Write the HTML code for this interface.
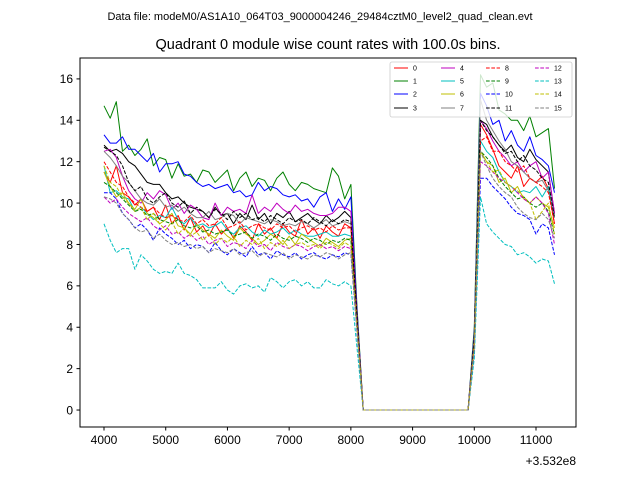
<!DOCTYPE html>
<html><head><meta charset="utf-8"><style>
body{margin:0;background:#fff;font-family:"Liberation Sans","DejaVu Sans",sans-serif}
svg{display:block}
</style></head><body>
<svg id="chart" width="640" height="480" viewBox="0 0 640 480">
<rect width="640" height="480" fill="#fff"/>
<text x="320" y="20" text-anchor="middle" font-size="11">Data file: modeM0/AS1A10_064T03_9000004246_29484cztM0_level2_quad_clean.evt</text>
<text x="328" y="49" text-anchor="middle" font-size="14.5">Quadrant 0 module wise count rates with 100.0s bins.</text>
<g id="series"></g>
<rect x="80" y="58" width="496" height="369" fill="none" stroke="#000" stroke-width="1"/>
<g id="xticks"></g>
<g id="yticks"></g>
<text x="576" y="465" text-anchor="end" font-size="12">+3.532e8</text>
<g id="legend"></g>
</svg>
<script>
const colors=["#f00","#008000","#00f","#000","#bf00bf","#00bfbf","#bfbf00","#808080"];
const labels=["0","1","2","3","4","5","6","7","8","9","10","11","12","13","14","15"];
const xTicks=[4000,5000,6000,7000,8000,9000,10000,11000];
const yTicks=[0,2,4,6,8,10,12,14,16];
const s0pre=[11.5,11.0,11.8,10.5,10.3,9.9,10.2,9.6,9.8,9.2,9.9,9.0,9.4,8.7,9.3,8.6,8.9,8.4,9.0,8.5,8.8,8.3,8.9,8.6,8.2,9.0,8.5,8.8,8.3,9.0,8.6,8.4,9.2,8.5,8.8,8.3,8.9,8.6,8.4,9.0,8.8];
const s0post=[13.8,13.3,12.6,11.8,11.5,11.2,11.8,10.8,11.2,11.0,11.3,10.7,9.0];
const s1pre=[14.7,14.1,14.9,12.5,12.8,12.3,12.6,13.1,11.8,12.2,12.1,11.2,11.9,11.3,11.4,11.0,11.6,11.5,11.0,11.3,11.6,10.6,11.2,11.5,10.8,11.2,11.1,10.6,11.2,11.5,10.9,10.6,11.0,10.9,10.7,10.6,10.5,11.7,11.3,10.2,10.9];
const s1post=[16.2,15.6,15.8,14.5,14.3,14.0,14.0,13.5,14.2,13.2,13.4,13.6,10.7];
const s2pre=[13.3,12.9,12.9,13.2,12.6,12.6,12.3,12.0,12.4,11.5,11.9,11.9,12.0,11.4,11.3,11.0,10.8,10.9,10.7,10.8,10.9,10.5,10.6,10.3,10.4,11.0,10.6,10.8,10.7,10.4,10.3,10.4,10.1,10.2,9.8,10.3,10.5,9.6,10.2,9.7,10.3];
const s2post=[15.3,14.7,13.8,14.0,13.0,13.5,12.8,12.5,13.2,12.3,12.1,11.8,10.5];
const s3pre=[12.8,12.5,12.6,12.4,12.0,11.8,11.4,11.0,10.9,10.9,10.5,10.2,10.3,10.0,9.8,9.7,9.6,9.3,9.8,9.4,9.5,9.0,9.5,9.2,9.9,9.2,9.5,9.0,9.5,9.3,9.6,9.1,9.3,9.5,9.2,9.0,9.4,9.1,9.3,9.6,9.3];
const s3post=[14.0,13.8,13.2,12.8,12.5,12.8,12.2,12.0,12.6,12.1,11.8,11.5,9.5];
const s4pre=[12.5,12.6,12.2,11.3,10.6,10.2,10.0,10.5,10.2,10.6,10.4,9.7,10.0,9.5,9.9,9.7,9.3,9.2,10.0,9.4,9.8,9.6,9.7,9.5,10.4,9.5,9.8,9.6,10.0,9.7,9.5,9.9,9.6,9.7,9.5,9.4,9.4,9.5,9.8,9.8,9.6];
const s4post=[14.0,13.6,13.0,12.5,12.2,11.8,12.0,11.5,11.8,12.0,11.2,11.5,9.5];
const s5pre=[11.8,10.5,10.6,10.3,10.2,9.6,9.8,9.5,9.2,9.4,9.3,9.8,9.2,9.0,9.3,8.9,9.0,8.8,8.9,9.1,8.7,8.5,8.8,8.9,8.6,8.4,8.7,8.5,8.6,8.8,8.5,8.7,8.5,8.4,8.4,8.5,8.6,8.4,8.4,8.5,8.4];
const s5post=[13.0,12.5,12.2,11.5,11.0,10.8,10.5,10.6,10.5,10.8,10.3,10.8,9.3];
const s6pre=[11.5,10.8,10.3,10.5,10.0,9.7,10.2,9.5,9.3,9.0,9.2,9.5,8.9,8.8,8.5,9.0,8.7,8.5,8.3,8.7,8.4,8.2,8.8,8.5,8.3,8.0,8.2,8.5,8.3,8.0,8.4,8.0,8.5,8.3,8.1,7.9,8.3,8.1,7.9,8.2,8.3];
const s6post=[12.5,12.0,11.8,11.0,11.2,10.5,10.8,10.2,10.0,10.3,10.0,9.8,8.8];
const s7pre=[12.5,12.2,11.8,11.3,11.0,10.6,10.2,10.0,9.9,10.2,9.8,9.9,9.6,9.8,9.5,9.3,9.3,9.6,9.2,9.3,9.5,9.4,9.0,9.3,9.2,9.1,9.0,9.2,9.1,8.9,9.0,8.9,9.1,9.0,8.8,9.0,9.2,8.9,9.0,9.1,9.0];
const s7post=[15.0,14.0,13.5,13.0,12.6,12.0,11.8,11.5,11.2,11.0,11.1,10.6,9.3];
const s8pre=[12.0,11.5,11.0,10.8,10.3,10.0,9.8,9.6,9.8,9.5,9.3,9.4,9.2,9.1,9.4,9.0,9.2,8.9,9.0,9.3,8.8,8.9,9.1,8.7,8.9,9.0,8.8,8.7,9.0,8.8,8.9,8.6,8.8,8.9,8.7,8.8,8.6,8.9,8.7,8.8,8.8];
const s8post=[13.0,13.2,12.5,12.5,12.0,11.8,11.5,11.8,11.2,11.0,10.8,10.5,9.0];
const s9pre=[11.0,10.8,10.5,10.2,9.9,9.6,9.7,9.4,9.5,9.2,9.1,9.0,9.2,8.9,8.8,8.9,8.6,8.7,8.5,8.6,8.7,8.4,8.5,8.6,8.3,8.5,8.4,8.2,8.5,8.3,8.2,8.4,8.3,8.1,8.3,8.2,8.0,8.2,8.1,8.3,8.2];
const s9post=[12.5,12.2,11.8,11.2,10.8,10.5,10.2,10.3,10.0,9.8,10.0,9.6,8.5];
const s10pre=[10.5,10.5,10.2,9.5,9.2,8.8,9.0,8.7,8.2,8.8,8.5,8.3,8.0,8.2,7.8,8.0,7.9,7.6,8.1,7.7,7.5,7.8,7.6,7.4,7.9,7.5,7.6,7.3,7.7,7.5,7.4,7.6,7.3,7.5,7.6,7.4,7.3,7.5,7.4,7.6,7.5];
const s10post=[11.2,11.2,10.8,10.5,10.2,9.8,9.5,9.4,9.2,8.5,9.0,8.8,7.5];
const s11pre=[12.7,12.5,12.3,11.8,11.0,10.6,10.8,10.2,10.0,10.3,10.5,10.0,9.8,10.1,9.5,9.8,9.6,9.3,9.7,9.5,9.2,9.6,9.3,9.5,9.2,9.3,9.1,9.4,9.2,9.0,9.3,9.1,9.2,9.0,9.3,9.1,8.9,9.2,9.0,9.2,9.1];
const s11post=[14.0,13.5,13.2,12.8,12.4,12.5,12.0,12.3,11.8,11.6,11.2,11.0,9.3];
const s12pre=[10.3,10.0,10.2,9.8,9.5,9.3,9.1,9.3,8.9,8.7,8.9,8.5,8.6,8.3,8.5,8.2,8.4,8.0,8.2,8.3,7.9,8.1,8.0,7.8,8.2,7.9,8.0,7.7,8.1,7.9,7.8,8.0,7.9,7.7,7.9,8.0,7.8,7.9,7.7,7.9,7.8];
const s12post=[12.0,11.8,11.5,11.2,11.0,10.8,10.5,10.2,10.0,10.3,10.0,9.5,8.0];
const s13pre=[9.0,8.2,7.6,7.8,7.8,6.8,7.5,7.2,6.8,6.6,6.7,6.6,7.1,6.6,6.5,6.3,5.9,5.9,5.9,6.2,5.8,5.6,6.0,6.1,5.9,6.0,5.7,6.4,6.2,5.9,6.2,6.3,6.0,6.2,5.9,5.9,6.3,6.1,6.0,6.2,6.0];
const s13post=[10.3,9.0,8.6,8.3,8.0,7.9,7.5,7.6,7.4,7.1,7.3,7.2,6.1];
const s14pre=[11.8,11.0,10.8,10.3,10.0,9.6,9.8,9.2,9.5,9.0,8.7,9.1,8.5,8.8,8.4,8.6,8.2,8.5,8.0,8.3,8.1,8.4,7.9,8.2,8.0,8.3,7.8,8.1,7.9,8.2,7.8,8.0,8.1,7.9,8.0,7.8,8.1,8.0,7.8,8.1,7.9];
const s14post=[12.5,12.0,11.5,11.6,11.0,10.8,10.6,10.3,10.0,9.2,9.6,10.0,8.5];
const s15pre=[10.3,10.2,10.0,9.5,9.2,8.8,8.6,8.7,8.3,8.5,8.2,8.0,8.1,7.9,8.0,7.8,7.9,7.6,7.8,7.7,7.6,7.8,7.5,7.6,7.7,7.4,7.6,7.5,7.4,7.6,7.3,7.5,7.4,7.3,7.5,7.4,7.6,7.5,7.3,7.5,7.6];
const s15post=[12.5,11.8,11.2,10.8,10.5,10.3,9.8,9.5,9.3,9.2,9.5,9.2,8.3];
const dropVals=[4.5,5.0,4.8,4.5,4.6,4.3,4.2,4.4,4.4,4.2,3.8,4.5,4.0,3.0,4.0,3.8];
const riseVals=[3.5,4.0,3.8,3.5,3.5,3.2,3.2,3.6,3.3,3.1,2.8,3.5,3.0,2.5,3.1,3.0];
const pres=[s0pre,s1pre,s2pre,s3pre,s4pre,s5pre,s6pre,s7pre,s8pre,s9pre,s10pre,s11pre,s12pre,s13pre,s14pre,s15pre];
const posts=[s0post,s1post,s2post,s3post,s4post,s5post,s6post,s7post,s8post,s9post,s10post,s11post,s12post,s13post,s14post,s15post];

const L=80,R=576,T=58,B=427,xmin=3611,xmax=11648,ymin=-0.82,ymax=17.01;
const X=v=>L+(v-xmin)/(xmax-xmin)*(R-L);
const Y=v=>B-(v-ymin)/(ymax-ymin)*(B-T);
const NS="http://www.w3.org/2000/svg";
function mk(t,a,p){const e=document.createElementNS(NS,t);for(const k in a)e.setAttribute(k,a[k]);p.appendChild(e);return e;}

const sg=document.getElementById('series');
for(let s=0;s<16;s++){
  const pts=[];
  pres[s].forEach((v,i)=>pts.push([4000+100*i,v]));
  pts.push([8100,dropVals[s]]);
  for(let x=8200;x<=9900;x+=100)pts.push([x,0]);
  pts.push([10000,riseVals[s]]);
  posts[s].forEach((v,i)=>pts.push([10100+100*i,v]));
  const p=mk('polyline',{points:pts.map(q=>X(q[0]).toFixed(1)+','+Y(q[1]).toFixed(1)).join(' '),fill:'none',stroke:colors[s%8],'stroke-width':1,'stroke-linejoin':'round'},sg);
  if(s>=8)p.setAttribute('stroke-dasharray','3.7,1.6');
  
  
}
const xg=document.getElementById('xticks');
xTicks.forEach(v=>{
  const l=mk('line',{x1:X(v),x2:X(v),y1:B,y2:B+3.5,stroke:'#000'},xg);
  
  
  const t=mk('text',{x:X(v),y:B+17,'text-anchor':'middle','font-size':12},xg);t.textContent=v;
  
  
});
const yg=document.getElementById('yticks');
yTicks.forEach(v=>{
  const l=mk('line',{x1:L-3.5,x2:L,y1:Y(v),y2:Y(v),stroke:'#000'},yg);
  
  
  const t=mk('text',{x:L-7,y:Y(v)+4.3,'text-anchor':'end','font-size':12},yg);t.textContent=v;
  
  
});
const lg=document.getElementById('legend');
const box=mk('rect',{x:390,y:62,width:182,height:55,rx:2,fill:'#fff','fill-opacity':0.8,stroke:'#ccc','stroke-width':0.8},lg);


const colX=[394,441,486,535],rowY=[68,81,94,108];
for(let s=0;s<16;s++){
  const cx=colX[Math.floor(s/4)],cy=rowY[s%4];
  const l=mk('line',{x1:cx,x2:cx+14,y1:cy,y2:cy,stroke:colors[s%8],'stroke-width':1},lg);
  if(s>=8)l.setAttribute('stroke-dasharray','3.7,1.6');
  
  
  const t=mk('text',{x:cx+19,y:cy+2.5,'font-size':7},lg);t.textContent=labels[s];
  
  
}
</script>
</body></html>
